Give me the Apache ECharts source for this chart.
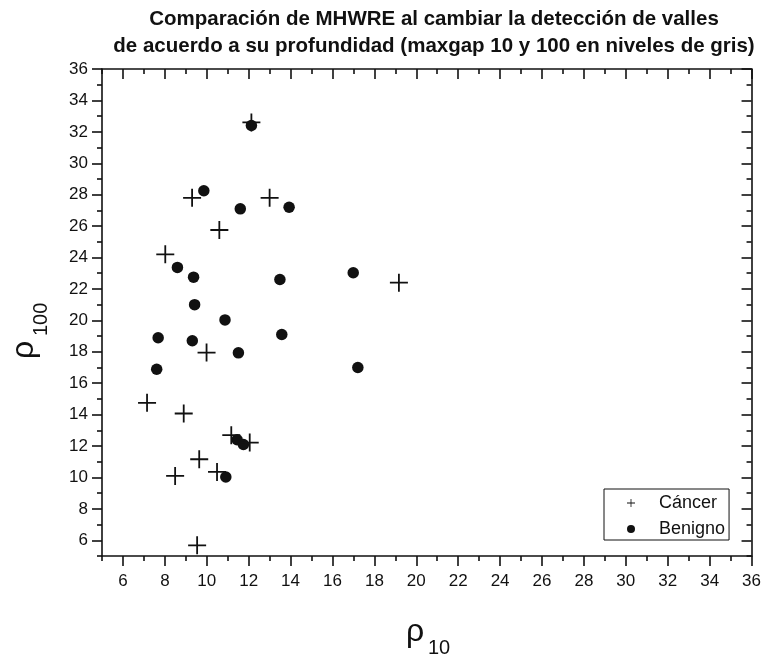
<!DOCTYPE html>
<html>
<head>
<meta charset="utf-8">
<script src="https://cdn.jsdelivr.net/npm/echarts@6/dist/echarts.min.js"></script>
<style>html,body{margin:0;padding:0;background:#fff}#c{width:764px;height:660px}</style>
</head>
<body>
<div id="c"></div>
<script>
var titleLines = ['Comparación de MHWRE al cambiar la detección de valles', 'de acuerdo a su profundidad (maxgap 10 y 100 en niveles de gris)'];
var seriesNames = ['Cáncer', 'Benigno'];
var cancerX = [12.13, 9.3, 13.0, 10.6, 8.02, 19.17, 9.99, 7.15, 8.9, 11.17, 12.05, 9.64, 8.49, 10.49, 9.54];
var cancerY = [32.6, 27.8, 27.8, 25.75, 24.2, 22.4, 17.95, 14.75, 14.07, 12.69, 12.22, 11.16, 10.1, 10.35, 5.68];
var benX = [12.13, 9.86, 11.6, 13.93, 8.6, 9.37, 13.49, 16.99, 9.42, 10.87, 7.68, 9.31, 13.58, 11.51, 7.61, 17.21, 11.45, 11.75, 10.91];
var benY = [32.4, 28.25, 27.1, 27.2, 23.37, 22.75, 22.6, 23.03, 21.0, 20.03, 18.89, 18.7, 19.1, 17.93, 16.89, 17.0, 12.4, 12.1, 10.03];
var majorTicks = [6, 8, 10, 12, 14, 16, 18, 20, 22, 24, 26, 28, 30, 32, 34, 36];
var minorTicks = [5, 7, 9, 11, 13, 15, 17, 19, 21, 23, 25, 27, 29, 31, 33, 35];
var axisMin = 5, axisMax = 36;

var FONT = '"Liberation Sans", Arial, sans-serif';
var plus = 'path://M9,0h2v9h9v2h-9v9h-2v-9h-9v-2h9z';
var lineStyle = {color: '#111', width: 1.6};

function makeAxis(pos, ticks, len, inside, showLine, showLabel) {
  return {
    type: 'value', position: pos, min: axisMin, max: axisMax,
    axisLine: {show: showLine, onZero: false, lineStyle: lineStyle},
    axisTick: {show: true, inside: inside, length: len, customValues: ticks, lineStyle: {color: '#111', width: 1.6}},
    axisLabel: {show: showLabel, customValues: majorTicks, color: '#111', fontSize: 17, fontFamily: FONT, margin: showLabel ? (pos === 'bottom' ? 17 : 14) : 8},
    splitLine: {show: false}
  };
}

var chart = echarts.init(document.getElementById('c'));
chart.setOption({
  animation: false,
  backgroundColor: '#fff',
  title: {
    text: titleLines.join('\n'), left: 429, top: 1, textAlign: 'center',
    textStyle: {fontFamily: FONT, fontSize: 20.5, fontWeight: 'bold', color: '#111', lineHeight: 27}
  },
  grid: {left: 102, right: 10, top: 69, bottom: 104},
  xAxis: [
    makeAxis('bottom', majorTicks, 10, false, true, true),
    makeAxis('bottom', minorTicks, 5, false, false, false),
    makeAxis('top', majorTicks, 10, true, true, false),
    makeAxis('top', minorTicks, 5, true, false, false)
  ],
  yAxis: [
    makeAxis('left', majorTicks, 10, false, true, true),
    makeAxis('left', minorTicks, 5, false, false, false),
    makeAxis('right', majorTicks, 10, true, true, false),
    makeAxis('right', minorTicks, 5, true, false, false)
  ],
  legend: {
    orient: 'vertical', left: 604, top: 489,
    padding: [5, 4, 2, 23], itemGap: 8, itemWidth: 8, itemHeight: 8,
    borderColor: '#111', borderWidth: 1, backgroundColor: '#fff',
    textStyle: {fontFamily: FONT, fontSize: 18, color: '#111', padding: [0, 0, 0, 19]},
    data: [{name: seriesNames[0], icon: plus}, {name: seriesNames[1], icon: 'circle'}]
  },
  graphic: [
    {type: 'text', x: 415, y: 632, style: {text: 'ρ', fontSize: 32, fontFamily: FONT, fill: '#111', align: 'center', verticalAlign: 'middle'}},
    {type: 'text', x: 428, y: 648, style: {text: '10', fontSize: 20, fontFamily: FONT, fill: '#111', align: 'left', verticalAlign: 'middle'}},
    {type: 'text', x: 24, y: 350, rotation: Math.PI / 2, style: {text: 'ρ', fontSize: 32, fontFamily: FONT, fill: '#111', align: 'center', verticalAlign: 'middle'}},
    {type: 'text', x: 41, y: 336, rotation: Math.PI / 2, style: {text: '100', fontSize: 20, fontFamily: FONT, fill: '#111', align: 'left', verticalAlign: 'middle'}}
  ],
  series: [
    {
      name: seriesNames[0], type: 'scatter', xAxisIndex: 0, yAxisIndex: 0,
      symbol: plus, symbolSize: 18, z: 3,
      itemStyle: {color: '#111', opacity: 1},
      data: cancerX.map(function (x, i) { return [x, cancerY[i]]; })
    },
    {
      name: seriesNames[1], type: 'scatter', xAxisIndex: 0, yAxisIndex: 0,
      symbol: 'circle', symbolSize: 11.5, z: 2,
      itemStyle: {color: '#111', opacity: 1},
      data: benX.map(function (x, i) { return [x, benY[i]]; })
    }
  ]
});
</script>
</body>
</html>
